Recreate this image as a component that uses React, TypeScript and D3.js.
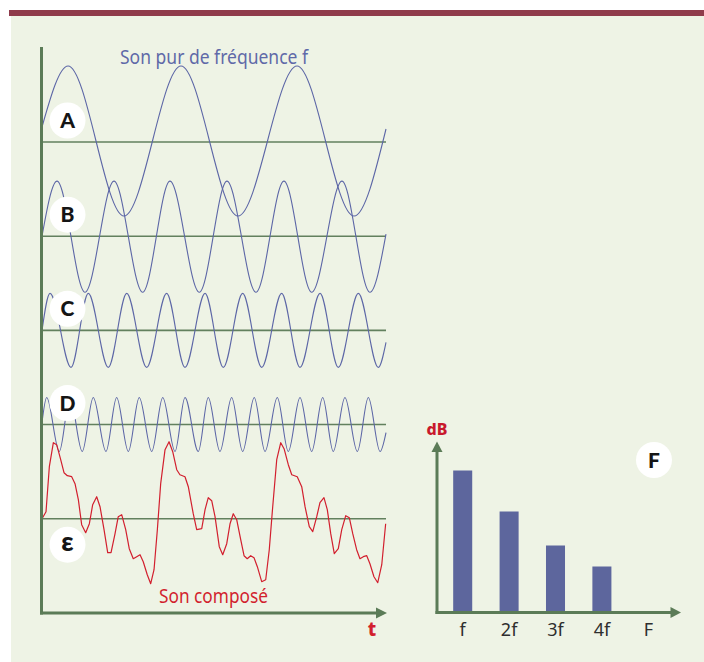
import React, { useEffect, useRef } from 'react';
import * as d3 from 'd3';

// rows of the left panel (the last one is the composed sound)
const rowLabels = ['A', 'B', 'C', 'D', 'ε'];

// pure tones: start, successive peaks / troughs, end  -> [time, amplitude]
const toneA = [[0, 15], [22.7, 76], [71.5, -74], [121.2, 76], [170.9, -74], [222.4, 76], [272.1, -74], [300, 13]];
const toneB = [[0, 0], [13.1, 55], [37.5, -56], [62.8, 55], [87.8, -56], [111.6, 55], [137.2, -56], [161.3, 55],
  [186.6, -56], [211.0, 55], [235.2, -56], [261.6, 55], [286.0, -56], [300, 2]];
const toneC = [[0, 0], [7.0, 37], [25.3, -37], [40.4, 37], [57.8, -37], [73.9, 37], [91.3, -37], [108.7, 37],
  [124.7, -37], [142.2, 37], [158.1, -37], [175.0, 37], [191.6, -37], [209.0, 37], [225.0, -37], [242.5, 37],
  [258.4, -37], [275.9, 37], [293.3, -37], [300, -12]];
const toneD = [[0, 2], [4.1, 27], [15.1, -27], [24.4, 27], [35.1, -27], [44.7, 27], [55.8, -27], [65.1, 27],
  [75.3, -27], [84.8, 27], [95.7, -27], [105.3, 27], [116.0, -27], [124.7, 27], [136.3, -27], [145.0, 27],
  [155.2, -27], [165.4, 27], [175.0, -27], [185.1, 27], [194.5, -27], [205.2, 27], [214.8, -27], [225.0, 27],
  [235.2, -27], [244.8, 27], [254.0, -27], [264.2, 27], [275.0, -27], [284.6, 27], [294.8, -27], [300, -8]];

// composed sound: vertices of the red trace
const composed = [[0, 0], [3.5, 7], [6.4, 52], [9.9, 76], [12.8, 74], [16.3, 59], [19.2, 46], [22.1, 43], [25.9, 42],
  [28.8, 35], [31.7, 19], [34.6, -6], [38.1, -14], [41.3, -5], [44.2, 14], [47.7, 22], [50.6, 12], [54.1, -11],
  [57.3, -34], [60.2, -34], [63.7, -15], [66.5, 2], [69.5, 4], [73.0, -11], [76.1, -30], [79.6, -40], [82.6, -38],
  [85.5, -36], [88.3, -43], [91.8, -56], [94.8, -65], [97.7, -51], [100.6, -11], [103.5, 35], [107.3, 69],
  [110.8, 77], [114.0, 67], [117.5, 49], [120.3, 44], [124.7, 42], [127.6, 32], [131.9, 5], [134.9, -11],
  [139.3, -10], [142.2, 9], [145.0, 21], [148.0, 18], [150.9, 2], [154.6, -28], [157.6, -36], [161.1, -25],
  [164.0, -5], [166.8, 5], [169.8, -1], [173.3, -21], [176.2, -37], [179.0, -40], [182.0, -37], [184.9, -39],
  [187.8, -48], [191.6, -63], [195.1, -61], [198.2, -31], [201.2, 12], [204.7, 59], [208.2, 76], [211.1, 70],
  [214.8, 54], [217.8, 44], [222.6, 42], [226.5, 32], [229.4, 12], [233.1, -8], [236.1, -13], [239.6, 2],
  [242.4, 16], [245.9, 21], [248.8, 9], [251.8, -15], [254.9, -35], [258.4, -30], [261.4, -11], [264.9, 3],
  [268.0, 1], [271.0, -15], [274.4, -31], [277.3, -40], [280.2, -38], [283.2, -37], [286.0, -45], [289.5, -58],
  [292.8, -64], [296.3, -46], [299.7, -5]];

// spectrum
const spectrumLabels = ['f', '2f', '3f', '4f', 'F'];
const spectrumDb = [142, 101, 67, 46];

const GREEN = '#5b7b57';
const BLUE = '#5c66a6';
const RED = '#d21f2e';

function App() {
  const d3Container = useRef(null);

  useEffect(() => {
    if (!d3Container.current) return;
    document.body.style.margin = '0';
    d3.select(d3Container.current).select('svg').remove();

    const svg = d3.select(d3Container.current)
      .append('svg')
      .attr('width', 704)
      .attr('height', 662)
      .style('display', 'block');

    // background panel + top rule
    svg.append('rect').attr('x', 11).attr('y', 16).attr('width', 693).attr('height', 646).attr('fill', '#eef3e5');
    svg.append('rect').attr('x', 9).attr('y', 10).attr('width', 695).attr('height', 6).attr('fill', '#8f3b4b');

    // ---------------- left panel: waveforms ----------------
    const x = d3.scaleLinear().domain([0, 300]).range([42, 386]);
    const row = d3.scalePoint().domain(rowLabels).range([142, 518.7]);
    const amp = d3.scaleLinear().domain([-100, 100]).range([100, -100]);

    // baselines
    rowLabels.forEach(k => {
      svg.append('line')
        .attr('x1', x(0)).attr('x2', x(300))
        .attr('y1', row(k)).attr('y2', row(k))
        .style('stroke', '#62805e')
        .style('stroke-width', 1.6);
    });

    const tones = [toneA, toneB, toneC, toneD];
    tones.forEach((tone, i) => {
      const base = row(rowLabels[i]);
      const line = d3.line()
        .x(d => x(d[0]))
        .y(d => base + amp(d[1]))
        .curve(d3.curveMonotoneX);
      svg.append('path')
        .attr('d', line(tone))
        .style('fill', 'none')
        .style('stroke', BLUE)
        .style('stroke-width', 1.1);
    });

    const baseE = row('ε');
    const redLine = d3.line()
      .x(d => x(d[0]))
      .y(d => baseE + amp(d[1]));
    svg.append('path')
      .attr('d', redLine(composed))
      .style('fill', 'none')
      .style('stroke', RED)
      .style('stroke-width', 1.2)
      .style('stroke-linejoin', 'round');

    // axes of the left panel
    const axisBottom = 613;
    svg.append('line')
      .attr('x1', 41.5).attr('x2', 41.5).attr('y1', 47).attr('y2', axisBottom + 1.5)
      .style('stroke', GREEN).style('stroke-width', 3);
    svg.append('line')
      .attr('x1', 40).attr('x2', 378).attr('y1', axisBottom).attr('y2', axisBottom)
      .style('stroke', GREEN).style('stroke-width', 3);
    svg.append('path')
      .attr('d', `M376,${axisBottom - 5.5}L387,${axisBottom}L376,${axisBottom + 5.5}Z`)
      .attr('fill', GREEN);

    svg.append('text')
      .attr('x', 372).attr('y', 636)
      .attr('text-anchor', 'middle')
      .style('font-family', '"Noto Sans", sans-serif')
      .style('font-weight', 800)
      .style('font-size', '19px')
      .style('fill', RED)
      .text('t');

    svg.append('text')
      .attr('x', 120).attr('y', 64)
      .attr('textLength', 188)
      .attr('lengthAdjust', 'spacingAndGlyphs')
      .style('font-family', '"Noto Sans", sans-serif')
      .style('font-size', '19px')
      .style('fill', '#5f69a8')
      .text('Son pur de fréquence f');

    svg.append('text')
      .attr('x', 159).attr('y', 603)
      .attr('textLength', 109)
      .attr('lengthAdjust', 'spacingAndGlyphs')
      .style('font-family', '"Noto Sans", sans-serif')
      .style('font-size', '19px')
      .style('fill', RED)
      .text('Son composé');

    // letter badges
    const badge = (cx, cy, label) => {
      const big = label === 'ε';
      svg.append('circle').attr('cx', cx).attr('cy', cy).attr('r', 18).attr('fill', '#ffffff');
      svg.append('text')
        .attr('x', cx).attr('y', cy + (big ? 6.5 : 7.5))
        .attr('text-anchor', 'middle')
        .style('font-family', 'Lato, "Noto Sans", sans-serif')
        .style('font-weight', 900)
        .style('font-size', big ? '27px' : '21px')
        .style('fill', '#151515')
        .text(label);
    };
    rowLabels.forEach(k => badge(67.5, row(k) + (k === 'ε' ? 26 : -21.5), k));

    // ---------------- right panel: spectrum ----------------
    const freq = d3.scalePoint().domain(spectrumLabels).range([439.5, 671.5]).padding(0.5);
    const db = d3.scaleLinear().domain([0, 170]).range([612.5, 442.5]);
    const barW = freq.step() * 0.41;

    svg.selectAll('rect.bar')
      .data(spectrumDb)
      .enter()
      .append('rect')
      .attr('class', 'bar')
      .attr('x', (d, i) => freq(spectrumLabels[i]) - barW / 2)
      .attr('y', d => db(d))
      .attr('width', barW)
      .attr('height', d => db(0) - db(d))
      .attr('fill', '#5d669d');

    const ax0 = 437;
    const ay0 = db(0);
    svg.append('line')
      .attr('x1', ax0).attr('x2', ax0).attr('y1', ay0 + 1.5).attr('y2', 450)
      .style('stroke', GREEN).style('stroke-width', 3);
    svg.append('path')
      .attr('d', `M${ax0 - 5.5},452L${ax0},441.5L${ax0 + 5.5},452Z`)
      .attr('fill', GREEN);
    svg.append('line')
      .attr('x1', ax0 - 1.5).attr('x2', 672).attr('y1', ay0).attr('y2', ay0)
      .style('stroke', GREEN).style('stroke-width', 3);
    svg.append('path')
      .attr('d', `M670.5,${ay0 - 5.5}L681,${ay0}L670.5,${ay0 + 5.5}Z`)
      .attr('fill', GREEN);

    svg.selectAll('text.freq')
      .data(spectrumLabels)
      .enter()
      .append('text')
      .attr('class', 'freq')
      .attr('x', d => freq(d))
      .attr('y', 636)
      .attr('text-anchor', 'middle')
      .style('font-family', '"Noto Sans", sans-serif')
      .style('font-size', '18px')
      .style('fill', '#2e2e2e')
      .text(d => d);

    svg.append('text')
      .attr('x', 437).attr('y', 434.5)
      .attr('text-anchor', 'middle')
      .style('font-family', '"Noto Sans", sans-serif')
      .style('font-weight', 800)
      .style('font-size', '16px')
      .style('fill', '#c8192c')
      .text('dB');

    badge(654, 460, 'F');
  }, []);

  return (
    <div ref={d3Container} />
  );
}

export default App;
